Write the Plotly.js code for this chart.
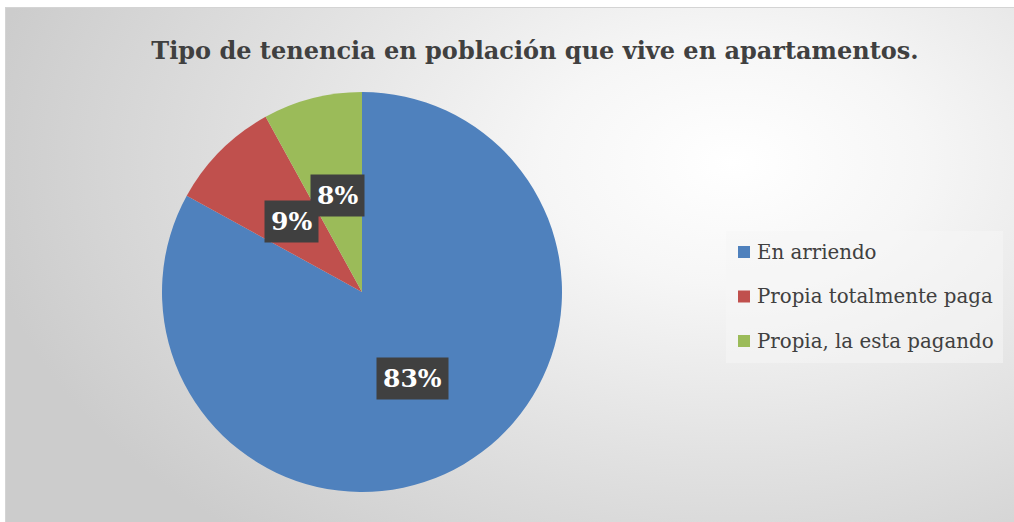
<!DOCTYPE html>
<html>
<head>
<meta charset="utf-8">
<script src="https://cdn.plot.ly/plotly-3.0.1.min.js"></script>
<style>
  html, body { margin: 0; padding: 0; background: #ffffff; }
  #bg {
    position: absolute; left: 5px; top: 7px; width: 1009px; height: 515px;
    border-top: 1px solid #d4d4d4; border-left: 1px solid #d4d4d4;
    background: radial-gradient(ellipse 75% 95% at 72% 30%, #ffffff 0%, #f6f6f6 25%, #e2e2e2 60%, #cccccc 100%);
  }
  #chart { position: absolute; left: 0; top: 0; width: 1014px; height: 522px; }
</style>
</head>
<body>
<div id="bg"></div>
<div id="chart"></div>
<script>
// ---- data ----
const titleText = 'Tipo de tenencia en población que vive en apartamentos.';
const labels = ['En arriendo', 'Propia totalmente paga', 'Propia, la esta pagando'];
const values = [83, 9, 8];
const colors = ['#4F81BD', '#C0504D', '#9BBB59'];

// ---- layout constants (pixels) ----
const W = 1014, H = 522;
const cx = 362, cy = 292, R = 200;
const px = x => x / W;
const py = y => 1 - y / H;

const total = values.reduce((a, b) => a + b, 0);

const trace = {
  type: 'pie',
  values: values,
  labels: labels,
  sort: false,
  direction: 'clockwise',
  rotation: 0,
  textinfo: 'none',
  hoverinfo: 'label+percent',
  marker: { colors: colors, line: { width: 0 } },
  domain: { x: [px(cx - R), px(cx + R)], y: [py(cy + R), py(cy - R)] },
  showlegend: false
};

// data labels placed at half radius on each slice's mid angle
const annotations = [];
let cum = 0;
values.forEach((v, i) => {
  const th = 2 * Math.PI * (cum + v / 2) / total;
  cum += v;
  annotations.push({
    xref: 'paper', yref: 'paper',
    x: px(cx + 0.5 * R * Math.sin(th)),
    y: py(cy - 0.5 * R * Math.cos(th)),
    text: Math.round(100 * v / total) + '%',
    showarrow: false,
    font: { family: 'DejaVu Serif', size: 25, color: '#ffffff', weight: 'bold' },
    bgcolor: '#404040',
    borderpad: 6,
    xanchor: 'center', yanchor: 'middle'
  });
});

// legend built from labels / colors
const shapes = [{
  type: 'rect', xref: 'paper', yref: 'paper',
  x0: px(726), x1: px(1003), y0: py(363), y1: py(231),
  fillcolor: 'rgba(245,245,245,0.55)', line: { width: 0 }, layer: 'below'
}];
labels.forEach((lab, i) => {
  const yc = 252 + 44.5 * i;
  shapes.push({
    type: 'rect', xref: 'paper', yref: 'paper',
    x0: px(738), x1: px(750), y0: py(yc + 6), y1: py(yc - 6),
    fillcolor: colors[i], line: { width: 0 }
  });
  annotations.push({
    xref: 'paper', yref: 'paper',
    x: px(755), y: py(yc),
    xanchor: 'left', yanchor: 'middle',
    text: lab, showarrow: false,
    font: { family: 'DejaVu Serif', size: 19.8, color: '#404040' }
  });
});

const layout = {
  width: W, height: H,
  margin: { l: 0, r: 0, t: 0, b: 0, pad: 0 },
  paper_bgcolor: 'rgba(0,0,0,0)',
  plot_bgcolor: 'rgba(0,0,0,0)',
  title: {
    text: titleText,
    x: px(535), xanchor: 'center',
    y: py(51), yanchor: 'middle',
    font: { family: 'DejaVu Serif', size: 24, color: '#404040', weight: 'bold' }
  },
  showlegend: false,
  annotations: annotations,
  shapes: shapes
};

Plotly.newPlot('chart', [trace], layout, { displayModeBar: false, staticPlot: true });
</script>
</body>
</html>
